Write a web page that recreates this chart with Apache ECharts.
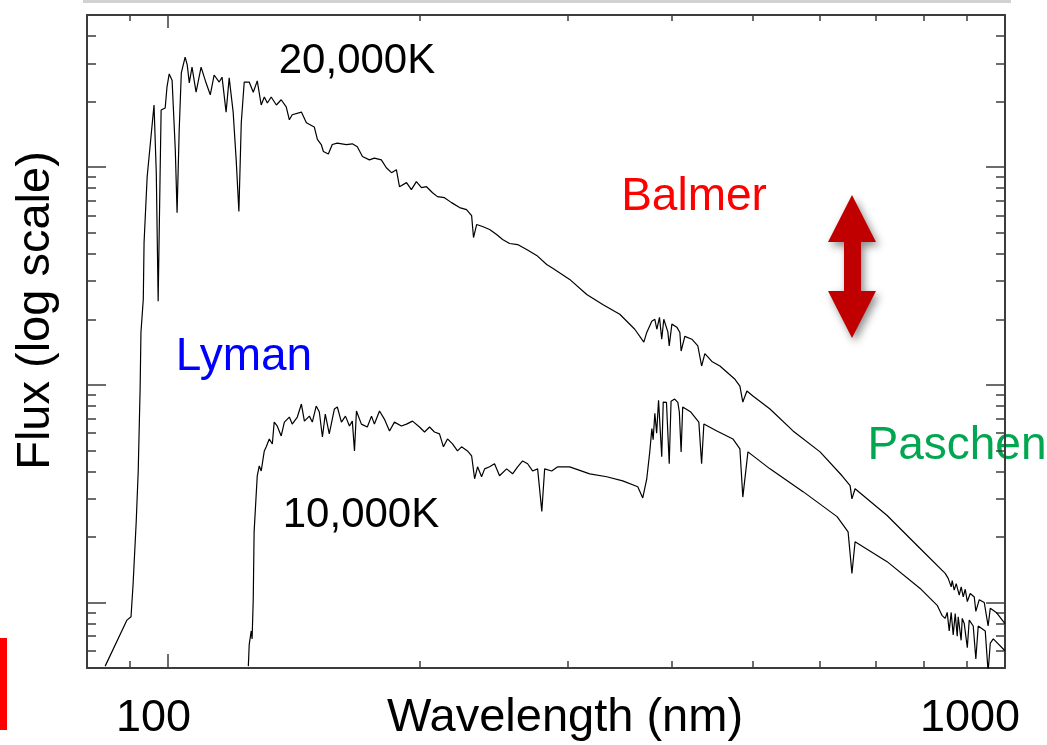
<!DOCTYPE html>
<html>
<head>
<meta charset="utf-8">
<script src="https://cdn.jsdelivr.net/npm/echarts@6/dist/echarts.min.js"></script>
<style>
html,body{margin:0;padding:0;background:#fff;}
#chart{width:1047px;height:745px;}
</style>
</head>
<body>
<div id="chart"></div>
<script>
// ---- Data (wavelength in nm, flux in arbitrary units, log scale) ----
const wl20k = [84.1,89.3,90.3,90.8,91.6,92.1,92.6,92.8,93.4,93.6,94.4,95.4,96.2,96.8,97.3,97.8,98.1,99.2,99.7,100.3,101.1,102.0,102.5,103.1,103.7,104.8,105.4,106.0,106.8,108.0,109.5,111.0,112.3,113.5,115.1,116.0,117.3,118.3,119.6,120.6,121.5,122.3,123.3,125.0,126.4,127.8,129.2,130.3,131.4,132.8,134.7,136.5,138.4,139.6,140.7,144.3,146.3,149.5,150.8,152.4,153.3,155.4,157.1,159.3,163.3,166.0,168.3,170.7,174.0,176.4,179.8,182.3,184.9,187.4,189.0,192.7,195.3,198.0,200.8,203.6,207.0,209.8,213.9,218.1,223.0,227.3,230.5,231.7,233.7,237.5,242.2,246.9,251.0,255.9,261.6,268.2,275.7,283.4,288.1,301.9,316.4,330.6,346.5,361.1,370.2,373.2,378.4,381.6,383.7,386.5,388.9,391.1,392.5,395.5,397.0,399.9,405.4,408.8,410.2,414.4,422.5,429.5,434.0,437.9,446.4,456.4,475.7,482.2,486.1,491.6,499.8,523.8,558.1,601.2,638.7,653.0,656.3,662.0,723.0,791.8,848.3,855.3,862.4,864.8,869.6,874.4,881.7,886.5,891.4,896.4,901.5,908.8,918.9,922.9,931.6,944.5,954.6,960.3,976.3,1000];
const flux20k = [0.51,0.83,0.86,1.2,2.35,3.98,9.76,17.4,24.7,45.1,90.4,138,193,94.3,24.2,87.6,183,187,234,268,251,120,61.8,148,271,320,295,244,288,221,288,244,215,265,246,259,179,257,179,108,62.5,160,246,246,221,249,193,210,197,210,193,204,189,165,174,179,160,153,134,127,118,115,127,129,127,128,124,112,108,110,108,99.4,94.3,97.3,81.3,84.9,78.8,85.8,80.5,81.3,76.3,73.2,72.4,68.7,65.2,63.8,59.9,47.5,54.5,53.4,51.7,49.0,46.5,44.6,44.1,41.8,39.3,35.7,34.3,30.5,26.0,23.4,21.1,18.0,15.7,17.4,19.6,20.0,18.0,20.4,16.2,20.0,19.8,17.5,15.1,19.0,18.4,17.4,14.3,16.7,16.2,15.1,12.2,13.9,12.8,12.2,10.6,9.87,8.33,9.36,8.88,7.74,6.14,4.92,3.82,3.44,2.99,3.33,2.51,1.77,1.36,1.29,1.18,1.26,1.14,1.22,1.08,1.18,1.06,1.15,1.01,1.10,1.06,0.91,1.03,1.0,0.78,0.94,0.90,0.80];

const wl10k = [124.7,125.0,125.7,126.0,126.4,126.7,127.4,127.8,128.5,129.2,130.3,131.0,132.1,133.2,133.9,135.0,136.5,137.7,139.6,140.7,142.7,144.3,145.5,147.5,148.7,150.3,151.6,152.9,154.1,155.8,158.0,159.3,161.1,162.9,164.7,166.0,167.0,167.9,170.2,173.0,175.0,176.4,178.9,181.3,183.9,186.4,190.0,192.7,195.9,199.7,202.5,205.3,208.1,211.0,213.3,215.7,218.7,221.7,224.2,227.9,230.5,232.4,234.3,236.9,238.9,242.2,245.5,248.9,253.8,258.0,261.6,265.2,268.9,272.6,276.4,279.6,281.8,287.3,292.1,301.9,319.0,334.3,349.3,364.1,369.1,373.2,376.3,378.5,379.8,381.6,383.5,385.5,386.9,388.9,390.5,394.0,397.0,399.0,403.0,406.5,408.2,410.2,412.0,421.3,430.7,434.0,436.7,452.6,473.0,482.2,486.1,493.0,523.8,573.7,630.0,649.4,656.3,662.0,723.0,791.8,829.8,841.3,848.3,853.0,857.7,862.4,867.2,872.0,876.8,879.2,886.3,889.0,893.9,901.5,906.3,916.3,922.9,929.0,947.1,954.6,960.3,968.3,1000];
const flux10k = [0.51,0.64,0.74,0.68,1.04,2.11,3.09,3.82,4.24,4.02,4.97,5.19,5.64,5.35,6.74,6.47,5.82,6.74,7.11,6.60,7.11,8.16,6.81,7.18,6.74,7.99,7.50,5.76,7.34,5.95,7.74,7.91,6.74,7.18,6.47,6.81,4.97,7.58,6.60,6.40,7.18,6.60,7.58,6.96,6.14,6.74,6.47,6.60,6.81,6.40,6.07,6.40,6.07,5.95,5.19,5.64,5.35,4.97,5.19,4.97,4.72,3.70,4.20,3.78,4.11,4.20,4.34,3.82,4.11,3.90,4.20,4.47,4.34,4.02,4.11,2.62,4.11,4.02,4.20,4.20,3.90,3.78,3.62,3.40,3.02,3.70,4.92,6.3,5.6,7.4,6.0,8.5,8.4,4.67,8.33,8.3,4.34,8.4,8.6,8.3,7.5,4.92,7.91,7.5,6.74,4.34,6.60,6.14,5.64,5.08,3.05,4.92,4.11,3.23,2.48,2.11,1.36,1.90,1.54,1.16,0.97,0.87,0.845,0.90,0.74,0.90,0.71,0.89,0.70,0.86,0.67,0.845,0.80,0.62,0.83,0.78,0.55,0.78,0.74,0.48,0.65,0.68,0.60];

// ---- Axes ----
const xRange = [80, 1000];
const yRange = [0.5, 500];
const xMajorTicks = [100, 1000];
const xMinorTicks = [90, 200, 300, 400, 500, 600, 700, 800, 900];
const xTickLabels = [100, 1000];
const yMajorTicks = [1, 10, 100];
const yMinorTicks = [0.6, 0.7, 0.8, 0.9, 2, 3, 4, 5, 6, 7, 8, 9, 20, 30, 40, 50, 60, 70, 80, 90, 200, 300, 400];

const xTitle = 'Wavelength (nm)';
const yTitle = 'Flux (log scale)';
const curveLabels = ['20,000K', '10,000K'];
const seriesLabels = ['Lyman', 'Balmer', 'Paschen'];

const FONT = '"Liberation Sans", Arial, Helvetica, sans-serif';
const AXIS_COLOR = '#3c3c3c';

function zip(a, b) { return a.map((v, i) => [v, b[i]]); }

function xAxisDef(position, ticks, len, withLine, withLabels) {
  const ax = {
    type: 'log', logBase: 10, min: xRange[0], max: xRange[1], position: position,
    axisLine: { show: withLine, onZero: false, lineStyle: { color: AXIS_COLOR, width: 2 } },
    axisTick: { show: true, inside: true, length: len, customValues: ticks, lineStyle: { color: AXIS_COLOR, width: 1.5 } },
    splitLine: { show: false },
    axisLabel: { show: false }
  };
  if (withLabels) {
    ax.axisLabel = {
      show: true, customValues: xTickLabels, margin: 28, showMinLabel: true, showMaxLabel: true,
      formatter: function (v) { return '{' + (v < 500 ? 'a' : 'b') + '|' + v + '}'; },
      rich: {
        a: { fontSize: 45, fontFamily: FONT, color: '#000', lineHeight: 45, padding: [0, 29, 0, 0] },
        b: { fontSize: 45, fontFamily: FONT, color: '#000', lineHeight: 45, padding: [0, 70, 0, 0] }
      }
    };
    ax.name = xTitle;
    ax.nameLocation = 'middle';
    ax.nameGap = 27;
    ax.nameMoveOverlap = false;
    ax.nameTextStyle = { fontSize: 47, fontFamily: FONT, color: '#000', lineHeight: 47, padding: [0, 0, 0, 38] };
  }
  return ax;
}

function yAxisDef(position, ticks, len, withLine, withName) {
  const ax = {
    type: 'log', logBase: 10, min: yRange[0], max: yRange[1], position: position,
    axisLine: { show: withLine, onZero: false, lineStyle: { color: AXIS_COLOR, width: 2 } },
    axisTick: { show: true, inside: true, length: len, customValues: ticks, lineStyle: { color: AXIS_COLOR, width: 1.5 } },
    splitLine: { show: false },
    axisLabel: { show: false }
  };
  if (withName) {
    ax.name = yTitle;
    ax.nameLocation = 'middle';
    ax.nameRotate = 90;
    ax.nameGap = 28;
    ax.nameMoveOverlap = false;
    ax.nameTextStyle = { fontSize: 47, fontFamily: FONT, color: '#000', lineHeight: 46, padding: [0, 0, 0, 62] };
  }
  return ax;
}

const chart = echarts.init(document.getElementById('chart'), null, { renderer: 'canvas' });

const arrowPts = [[852,195],[876,242],[861,242],[861,291],[876,291],[852,338],[828,291],[844,291],[844,242],[828,242]];

chart.setOption({
  animation: false,
  backgroundColor: '#ffffff',
  grid: { left: 87, right: 42, top: 15, bottom: 77, containLabel: false, outerBoundsMode: 'none' },
  xAxis: [
    xAxisDef('bottom', xMajorTicks, 14, true, true),
    xAxisDef('bottom', xMinorTicks, 7, false, false),
    xAxisDef('top', xMajorTicks, 13, true, false),
    xAxisDef('top', xMinorTicks, 6, false, false)
  ],
  yAxis: [
    yAxisDef('left', yMajorTicks, 19, true, true),
    yAxisDef('left', yMinorTicks, 9, false, false),
    yAxisDef('right', yMajorTicks, 19, true, false),
    yAxisDef('right', yMinorTicks, 9, false, false)
  ],
  series: [
    {
      name: curveLabels[0], type: 'line', xAxisIndex: 0, yAxisIndex: 0,
      data: zip(wl20k, flux20k), showSymbol: false, symbol: 'none', clip: true,
      lineStyle: { color: '#000', width: 1.2 }
    },
    {
      name: curveLabels[1], type: 'line', xAxisIndex: 0, yAxisIndex: 0,
      data: zip(wl10k, flux10k), showSymbol: false, symbol: 'none', clip: true,
      lineStyle: { color: '#000', width: 1.2 }
    }
  ],
  graphic: [
    { type: 'rect', shape: { x: 83, y: 0, width: 928, height: 3 }, style: { fill: '#d2d2d2' }, silent: true },
    { type: 'rect', shape: { x: 0, y: 638, width: 7, height: 92 }, style: { fill: '#ff0000' }, silent: true },
    { type: 'text', style: { text: curveLabels[0], x: 357, y: 61, fill: '#000', font: '42px ' + FONT, textAlign: 'center', textVerticalAlign: 'middle', align: 'center', verticalAlign: 'middle' } },
    { type: 'text', style: { text: curveLabels[1], x: 361, y: 515, fill: '#000', font: '42px ' + FONT, textAlign: 'center', textVerticalAlign: 'middle', align: 'center', verticalAlign: 'middle' } },
    { type: 'text', style: { text: seriesLabels[0], x: 244, y: 357, fill: '#0000ff', font: '46px ' + FONT, textAlign: 'center', textVerticalAlign: 'middle', align: 'center', verticalAlign: 'middle' } },
    { type: 'text', style: { text: seriesLabels[1], x: 694, y: 197, fill: '#ff0000', font: '46px ' + FONT, textAlign: 'center', textVerticalAlign: 'middle', align: 'center', verticalAlign: 'middle' } },
    { type: 'text', style: { text: seriesLabels[2], x: 957, y: 446, fill: '#00a650', font: '46px ' + FONT, textAlign: 'center', textVerticalAlign: 'middle', align: 'center', verticalAlign: 'middle' } },
    { type: 'polygon', shape: { points: arrowPts }, style: { fill: '#c00000', shadowBlur: 8, shadowOffsetX: 3, shadowOffsetY: 4, shadowColor: 'rgba(0,0,0,0.45)' }, silent: true }
  ]
});
</script>
</body>
</html>
